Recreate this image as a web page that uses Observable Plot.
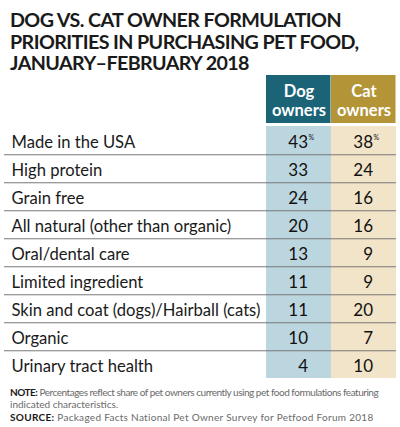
<!DOCTYPE html>
<html>
<head>
<meta charset="utf-8">
<script src="https://cdn.jsdelivr.net/npm/d3@7"></script>
<script src="https://cdn.jsdelivr.net/npm/@observablehq/plot@0.6"></script>
<style>
  body { margin: 0; width: 400px; background: #fff; font-family: Lato, sans-serif; }
  #title { height: 75px; box-sizing: border-box; padding: 9px 0 0 10px; font-weight: 700; font-size: 19.7px; letter-spacing: -0.6px; line-height: 21.5px; color: #1a1a1a; white-space: nowrap; }
  #note { padding: 6px 0 0 10px; font-size: 10px; line-height: 12.3px; color: #6a6a6a; white-space: nowrap; }
  #note b { color: #1a1a1a; font-weight: 700; }
  #note .l1 { letter-spacing: -0.48px; }
  #note .l3 { letter-spacing: 0.3px; }
  svg { display: block; }
</style>
</head>
<body>
<div id="title">DOG VS. CAT OWNER FORMULATION<br>PRIORITIES IN PURCHASING PET FOOD,<br>JANUARY–FEBRUARY 2018</div>
<div id="header"></div>
<div id="table"></div>
<div id="note"><span class="l1"><b>NOTE:</b> Percentages reflect share of pet owners currently using pet food formulations featuring</span><br>indicated characteristics.<br><span class="l3"><b>SOURCE:</b> Packaged Facts National Pet Owner Survey for Petfood Forum 2018</span></div>
<script>
const labels = [
  "Made in the USA",
  "High protein",
  "Grain free",
  "All natural (other than organic)",
  "Oral/dental care",
  "Limited ingredient",
  "Skin and coat (dogs)/Hairball (cats)",
  "Organic",
  "Urinary tract health",
];
const dog = [43, 33, 24, 20, 13, 11, 11, 10, 4];
const cat = [38, 24, 16, 16, 9, 9, 20, 7, 10];
const owners = ["Dog owners", "Cat owners"];

const headerColors = ["#1b6478", "#b39538"];
const cellColors = ["#bcd6df", "#f2e4c8"];

// long format: one record per cell
const rows = labels.flatMap((label, i) => [
  { label, owner: owners[0], value: dog[i] },
  { label, owner: owners[1], value: cat[i] },
]);

const colRange = [265, 396];
const tableHeight = 257;
const rowH = tableHeight / labels.length;

const header = Plot.plot({
  width: 400,
  height: 48,
  marginTop: 0,
  marginBottom: 0,
  marginLeft: 4,
  marginRight: 4,
  style: { fontFamily: "Lato, sans-serif" },
  x: { type: "band", domain: owners, range: colRange, padding: 0, axis: null },
  color: { domain: owners, range: headerColors },
  marks: [
    Plot.cell(owners, { x: (d) => d, fill: (d) => d, insetRight: 0.5 }),
    Plot.text(owners, {
      x: (d) => d,
      text: (d) => d.replace(" ", "\n"),
      fill: "white",
      fontSize: 16.5,
      fontWeight: "bold",
      lineHeight: 1.15,
      dy: 1,
    }),
  ],
});

const table = Plot.plot({
  width: 400,
  height: tableHeight,
  marginTop: 0,
  marginBottom: 0,
  marginLeft: 4,
  marginRight: 4,
  style: { fontFamily: "Lato, sans-serif" },
  x: { type: "band", domain: owners, range: colRange, padding: 0, axis: null },
  y: { type: "band", domain: labels, padding: 0, axis: null },
  color: { domain: owners, range: cellColors },
  marks: [
    Plot.cell(rows, { x: "owner", y: "label", fill: "owner" }),
    Plot.ruleY(labels.slice(0, -1), {
      y: (d) => d,
      dy: rowH / 2,
      stroke: "#777",
      strokeWidth: 1,
    }),
    Plot.text(labels, {
      y: (d) => d,
      text: (d) => d,
      frameAnchor: "left",
      textAnchor: "start",
      dx: 7,
      dy: 2,
      fontSize: 16.6,
      fill: "#1a1a1a",
    }),
    Plot.text(rows, {
      x: "owner",
      y: "label",
      text: "value",
      textAnchor: "end",
      dx: 9,
      dy: 2,
      fontSize: 17,
      fill: "#111",
    }),
    // superscript percent on first row only
    Plot.text(rows.filter((d) => d.label === labels[0]), {
      x: "owner",
      y: "label",
      text: () => "%",
      textAnchor: "start",
      dx: 9.5,
      dy: -3,
      fontSize: 7,
      fill: "#111",
    }),
  ],
});

document.getElementById("header").appendChild(header);
document.getElementById("table").appendChild(table);
</script>
</body>
</html>
